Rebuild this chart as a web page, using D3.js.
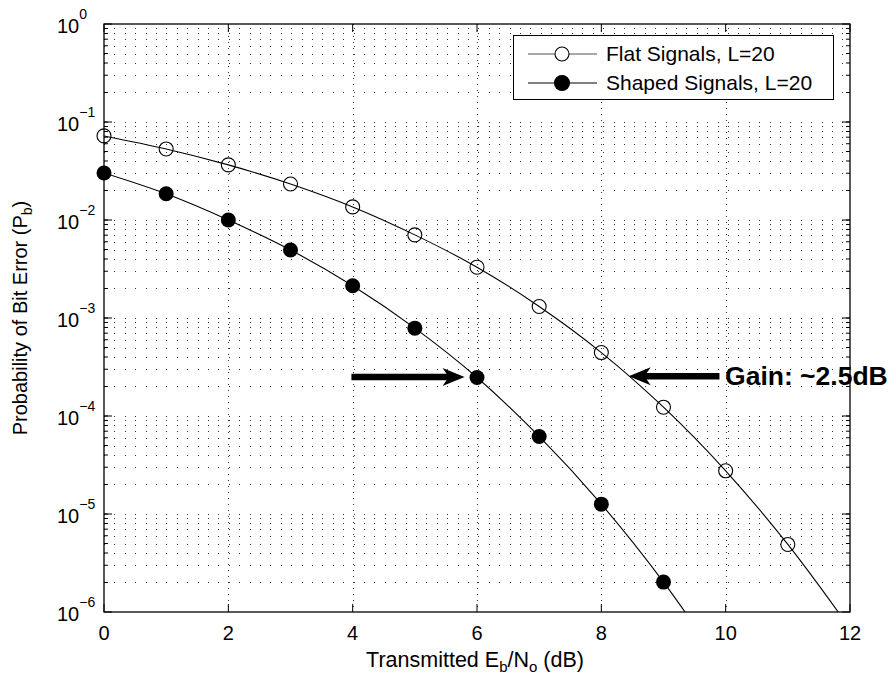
<!DOCTYPE html>
<html>
<head>
<meta charset="utf-8">
<script src="https://cdn.jsdelivr.net/npm/d3@7"></script>
<style>
  body { margin: 0; background: #fff; }
  svg text { font-family: "Liberation Sans", Arial, Helvetica, sans-serif; fill: #000; }
</style>
</head>
<body>
<div id="chart"></div>
<script>
// Eb/No points (dB) and simulated bit error rates
var flatSnr = [0, 1, 2, 3, 4, 5, 6, 7, 8, 9, 10, 11];
var flatBer = [0.0721, 0.0531, 0.0365, 0.0233, 0.0136, 0.00705, 0.0033, 0.00131, 0.000444, 0.000123, 2.76e-5, 4.89e-6];
var shapedSnr = [0, 1, 2, 3, 4, 5, 6, 7, 8, 9];
var shapedBer = [0.0302, 0.0185, 0.01, 0.00495, 0.00213, 0.000788, 0.000247, 6.18e-5, 1.26e-5, 2.02e-6];
// where each curve continues past the last marker (clipped by the axes)
var flatTail = [12, 6.8e-7];
var shapedTail = [10, 2.5e-7];

var xTicks = [0, 2, 4, 6, 8, 10, 12];
var yExponents = [0, -1, -2, -3, -4, -5, -6];
var legendLabels = ["Flat Signals, L=20", "Shaped Signals, L=20"];
var gainLabel = "Gain: ~2.5dB";

var width = 896, height = 681;
var margin = { top: 24, right: 46, bottom: 69, left: 104 };

var svg = d3.select("#chart")
    .append("svg")
    .attr("width", width)
    .attr("height", height);

var x = d3.scaleLinear()
    .domain([0, 12])
    .range([margin.left, width - margin.right]);

var y = d3.scaleLog()
    .domain([1e-6, 1])
    .range([height - margin.bottom, margin.top]);

var x0 = x.range()[0], x1 = x.range()[1];
var yTop = y.range()[1], yBot = y.range()[0];

svg.append("defs").append("clipPath")
    .attr("id", "plot-clip")
    .append("rect")
    .attr("x", x0).attr("y", yTop)
    .attr("width", x1 - x0).attr("height", yBot - yTop);

// grid: vertical at major x ticks, horizontal at every decade and minor step
var minorY = [];
yExponents.forEach(function (e) {
    if (e === 0) return;
    for (var m = 1; m <= 9; m++) minorY.push(m * Math.pow(10, e));
});

var grid = svg.append("g").attr("class", "grid")
    .attr("shape-rendering", "crispEdges");

grid.selectAll("line.hgrid")
    .data(minorY.filter(function (v) { return v > 1e-6 && v < 1; }))
    .enter().append("line")
    .attr("class", "hgrid")
    .attr("x1", x0).attr("x2", x1)
    .attr("y1", function (d) { return Math.round(y(d)) + 0.5; })
    .attr("y2", function (d) { return Math.round(y(d)) + 0.5; })
    .style("stroke", "#333")
    .style("stroke-width", 1)
    .style("stroke-dasharray", "1,9.4");

grid.selectAll("line.vgrid")
    .data(xTicks.slice(1, -1))
    .enter().append("line")
    .attr("class", "vgrid")
    .attr("x1", function (d) { return Math.round(x(d)) + 0.5; })
    .attr("x2", function (d) { return Math.round(x(d)) + 0.5; })
    .attr("y1", yTop).attr("y2", yBot)
    .style("stroke", "#333")
    .style("stroke-width", 1)
    .style("stroke-dasharray", "1,5");

// ticks inside the box, on all four sides
var ticks = svg.append("g").attr("class", "ticks").style("stroke", "#000").style("stroke-width", 1);
yExponents.forEach(function (e) {
    var py = y(Math.pow(10, e));
    ticks.append("line").attr("x1", x0).attr("x2", x0 + 8).attr("y1", py).attr("y2", py);
    ticks.append("line").attr("x1", x1).attr("x2", x1 - 8).attr("y1", py).attr("y2", py);
});
minorY.forEach(function (v) {
    if (v <= 1e-6 || v >= 1) return;
    var py = y(v);
    ticks.append("line").attr("x1", x0).attr("x2", x0 + 4).attr("y1", py).attr("y2", py);
    ticks.append("line").attr("x1", x1).attr("x2", x1 - 4).attr("y1", py).attr("y2", py);
});
xTicks.forEach(function (t) {
    var px = x(t);
    ticks.append("line").attr("x1", px).attr("x2", px).attr("y1", yBot).attr("y2", yBot - 8);
    ticks.append("line").attr("x1", px).attr("x2", px).attr("y1", yTop).attr("y2", yTop + 8);
});

// curves
var line = d3.line()
    .x(function (d) { return x(d[0]); })
    .y(function (d) { return y(d[1]); })
    .curve(d3.curveCatmullRom);

var flatPts = flatSnr.map(function (s, i) { return [s, flatBer[i]]; });
var shapedPts = shapedSnr.map(function (s, i) { return [s, shapedBer[i]]; });

var plot = svg.append("g").attr("clip-path", "url(#plot-clip)");

plot.append("path")
    .datum(flatPts.concat([flatTail]))
    .attr("d", line)
    .style("fill", "none").style("stroke", "#000").style("stroke-width", 1.1);

plot.append("path")
    .datum(shapedPts.concat([shapedTail]))
    .attr("d", line)
    .style("fill", "none").style("stroke", "#000").style("stroke-width", 1.1);

svg.append("g").selectAll("circle")
    .data(flatPts)
    .enter().append("circle")
    .attr("cx", function (d) { return x(d[0]); })
    .attr("cy", function (d) { return y(d[1]); })
    .attr("r", 7)
    .style("fill", "#fff").style("fill-opacity", 0)
    .style("stroke", "#000").style("stroke-width", 1.1);

svg.append("g").selectAll("circle")
    .data(shapedPts)
    .enter().append("circle")
    .attr("cx", function (d) { return x(d[0]); })
    .attr("cy", function (d) { return y(d[1]); })
    .attr("r", 7.5)
    .style("fill", "#000");

// axes box
svg.append("rect")
    .attr("x", x0).attr("y", yTop)
    .attr("width", x1 - x0).attr("height", yBot - yTop)
    .style("fill", "none").style("stroke", "#000").style("stroke-width", 1.3);

// tick labels
svg.append("g").selectAll("text")
    .data(xTicks)
    .enter().append("text")
    .attr("x", function (d) { return x(d); })
    .attr("y", yBot + 28)
    .attr("text-anchor", "middle")
    .style("font-size", "20px")
    .text(function (d) { return d; });

var yLab = svg.append("g").selectAll("text")
    .data(yExponents)
    .enter().append("text")
    .attr("x", 57)
    .attr("y", function (d) { return y(Math.pow(10, d)) + 9; })
    .style("font-size", "20px");
yLab.append("tspan").text("10");
yLab.append("tspan")
    .attr("dy", -14)
    .style("font-size", "14px")
    .text(function (d) { return d === 0 ? "0" : "\u2212" + (-d); });

// axis titles
var xTitle = svg.append("text")
    .attr("x", (x0 + x1) / 2 - 2)
    .attr("y", 667)
    .attr("text-anchor", "middle")
    .style("font-size", "21.5px");
xTitle.append("tspan").text("Transmitted E");
xTitle.append("tspan").attr("dy", 5).style("font-size", "15px").text("b");
xTitle.append("tspan").attr("dy", -5).text("/N");
xTitle.append("tspan").attr("dy", 5).style("font-size", "15px").text("o");
xTitle.append("tspan").attr("dy", -5).text(" (dB)");

var yTitle = svg.append("text")
    .attr("transform", "translate(27," + ((yTop + yBot) / 2) + ") rotate(-90)")
    .attr("text-anchor", "middle")
    .style("font-size", "20px");
yTitle.append("tspan").text("Probability of Bit Error (P");
yTitle.append("tspan").attr("dy", 5).style("font-size", "14px").text("b");
yTitle.append("tspan").attr("dy", -5).text(")");

// gain annotation arrows
function arrow(fromX, toX, atY) {
    var ax = x(fromX), bx = x(toX), py = y(atY);
    var dir = bx > ax ? 1 : -1;
    var g = svg.append("g");
    g.append("line")
        .attr("x1", ax).attr("x2", bx - dir * 14)
        .attr("y1", py).attr("y2", py)
        .style("stroke", "#000").style("stroke-width", 6.5);
    var L = 22, H = 9;
    g.append("path")
        .attr("d", "M" + bx + "," + py +
            " L" + (bx - dir * L) + "," + (py - H) +
            " L" + (bx - dir * L * 0.72) + "," + py +
            " L" + (bx - dir * L) + "," + (py + H) + " Z")
        .style("fill", "#000");
}
arrow(3.98, 5.8, 2.5e-4);
arrow(9.9, 8.44, 2.55e-4);

svg.append("text")
    .attr("x", x(9.99))
    .attr("y", 385)
    .style("font-size", "26.5px")
    .style("font-weight", "bold")
    .text(gainLabel);

// legend
var legend = svg.append("g");
legend.append("rect")
    .attr("x", 513.5).attr("y", 35.5)
    .attr("width", 320).attr("height", 64)
    .style("fill", "#fff").style("stroke", "#000").style("stroke-width", 1);

legendLabels.forEach(function (label, i) {
    var ly = 54 + i * 29;
    legend.append("line")
        .attr("x1", 528).attr("x2", 597).attr("y1", ly).attr("y2", ly)
        .style("stroke", i === 0 ? "#555" : "#000").style("stroke-width", 1.1);
    legend.append("circle")
        .attr("cx", 562).attr("cy", ly)
        .attr("r", i === 0 ? 7 : 7.5)
        .style("fill", i === 0 ? "#fff" : "#000")
        .style("stroke", "#000").style("stroke-width", 1.1);
    legend.append("text")
        .attr("x", 606).attr("y", ly + 7)
        .style("font-size", "21px")
        .text(label);
});
</script>
</body>
</html>
